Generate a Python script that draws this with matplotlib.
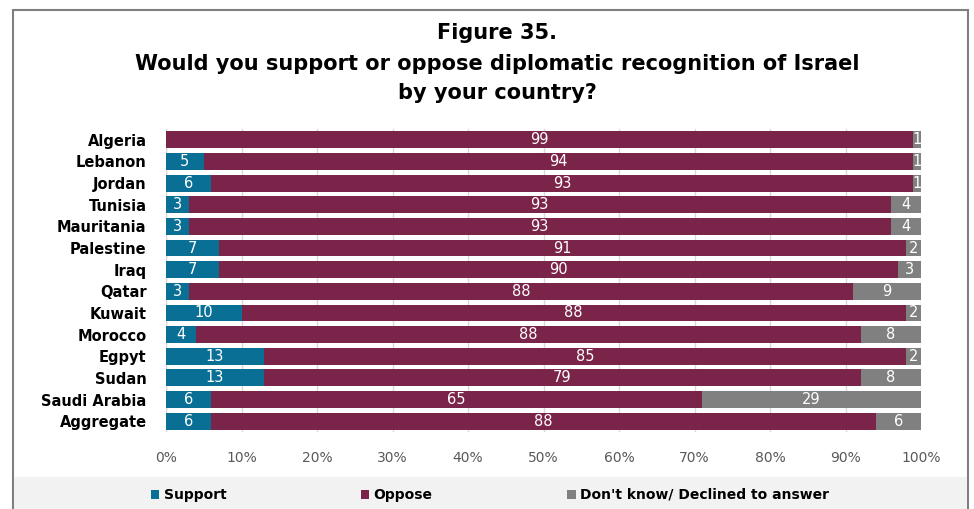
import matplotlib.pyplot as plt
from matplotlib.patches import Rectangle
import numpy as np

countries = ["Algeria", "Lebanon", "Jordan", "Tunisia", "Mauritania", "Palestine",
             "Iraq", "Qatar", "Kuwait", "Morocco", "Egpyt", "Sudan", "Saudi Arabia",
             "Aggregate"]
support = [0, 5, 6, 3, 3, 7, 7, 3, 10, 4, 13, 13, 6, 6]
oppose = [99, 94, 93, 93, 93, 91, 90, 88, 88, 88, 85, 79, 65, 88]
dont_know = [1, 1, 1, 4, 4, 2, 3, 9, 2, 8, 2, 8, 29, 6]

c_sup = "#096f95"
c_opp = "#7b2449"
c_dk = "#808080"

W, H = 974, 509
fig = plt.figure(figsize=(W / 100, H / 100), dpi=100)
plt.rcParams['font.family'] = ['DejaVu Sans']

# outer frame and legend band
fig.patches.append(Rectangle((13 / W, 0), 955 / W, 1 - 10 / H, transform=fig.transFigure,
                             fill=False, edgecolor="#7f7f7f", linewidth=1.5))
fig.patches.append(Rectangle((14 / W, 0), 953 / W, 32 / H, transform=fig.transFigure,
                             facecolor="#f2f2f2", edgecolor="none"))

ax = fig.add_axes([166 / W, 1 - 432 / H, (921 - 166) / W, (432 - 129) / H])
y = np.arange(len(countries))
h = 0.78
s = np.array(support)
o = np.array(oppose)
d = np.array(dont_know)
b1 = ax.barh(y, s, height=h, color=c_sup, label="Support")
b2 = ax.barh(y, o, left=s, height=h, color=c_opp, label="Oppose")
b3 = ax.barh(y, d, left=s + o, height=h, color=c_dk, label="Don't know/ Declined to answer")

for bars, vals, lefts in [(b1, s, np.zeros_like(s)), (b2, o, s), (b3, d, s + o)]:
    for yi, v, l in zip(y, vals, lefts):
        if v > 0:
            ax.text(l + v / 2, yi, str(v), ha="center", va="center", color="white",
                    fontsize=10.5)

ax.set_xlim(0, 100)
ax.set_ylim(len(countries) - 0.5, -0.5)
ax.set_yticks(y)
ax.set_yticklabels(countries, fontsize=10.5, fontweight="bold")
ax.set_xticks(np.arange(0, 101, 10))
ax.set_xticklabels([f"{t}%" for t in range(0, 101, 10)], fontsize=10, color="#595959")
ax.tick_params(axis="y", length=0, pad=14)
ax.tick_params(axis="x", length=0, pad=14)
ax.grid(axis="x", color="#d9d9d9", linewidth=1)
ax.set_axisbelow(True)
for sp in ax.spines.values():
    sp.set_visible(False)
ax.axvline(0, color="#d9d9d9", linewidth=1, zorder=0)

fig.text(497 / W, 1 - 33 / H, "Figure 35.", ha="center", va="center",
         fontsize=15, fontweight="bold")
fig.text(497 / W, 1 - 64 / H, "Would you support or oppose diplomatic recognition of Israel",
         ha="center", va="center", fontsize=15, fontweight="bold")
fig.text(497 / W, 1 - 93 / H, "by your country?", ha="center", va="center",
         fontsize=15, fontweight="bold")

fig.legend(handles=[b1, b2, b3], loc="center", bbox_to_anchor=(490 / W, 1 - 495 / H),
           ncol=3, frameon=False, prop={"weight": "bold", "size": 10},
           handlelength=0.6, handleheight=0.6, handletextpad=0.3, columnspacing=9.7)

fig.savefig("out.png", dpi=100)
